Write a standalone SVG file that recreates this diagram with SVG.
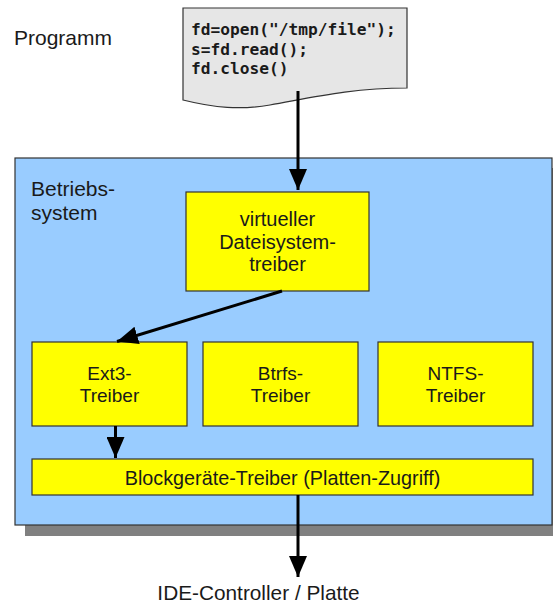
<svg xmlns="http://www.w3.org/2000/svg" width="553" height="605" viewBox="0 0 553 605">
<style>
.lbl{font-family:"Liberation Sans",Arial,sans-serif;fill:#1a1a1a}
.box{fill:#ffff00;stroke:#333333;stroke-width:1.2}
.mid{text-anchor:middle}
.code{font-family:"DejaVu Sans Mono",monospace;font-weight:bold;font-size:16.2px;fill:#1a1a1a}
.conn{stroke:#000;stroke-width:3;fill:none}
</style>
<defs>
<marker id="ah" markerWidth="7" markerHeight="6" refX="7" refY="3" orient="auto" markerUnits="strokeWidth" viewBox="0 0 7 6">
<path d="M0,0 L7,3 L0,6 Z" fill="#000"/>
</marker>
</defs>
<rect width="553" height="605" fill="#ffffff"/>
<g id="programm">
<text class="lbl" x="14" y="45" font-size="21">Programm</text>
<path d="M183,8 L407,8 L407,88 C350,88 310,98 270,105 C240,110 215,108 183,100 Z" fill="#e6e6e6" stroke="#333333" stroke-width="1.2"/>
<text class="code" x="191" y="35">fd=open("/tmp/file");</text>
<text class="code" x="191" y="54.5">s=fd.read();</text>
<text class="code" x="191" y="73.5">fd.close()</text>
</g>
<g id="betriebssystem">
<rect x="25" y="168" width="537" height="368" fill="#808080"/>
<rect x="15" y="158" width="537" height="367" fill="#99ccff" stroke="#333333" stroke-width="1.2"/>
<text class="lbl" x="31" y="196" font-size="21">Betriebs-</text>
<text class="lbl" x="31" y="220" font-size="21">system</text>
</g>
<g id="vfs">
<rect class="box" x="186" y="192" width="183" height="99"/>
<text class="lbl mid" x="277.5" y="226" font-size="20">virtueller</text>
<text class="lbl mid" x="277.5" y="249" font-size="20">Dateisystem-</text>
<text class="lbl mid" x="277.5" y="271" font-size="20">treiber</text>
</g>
<g id="ext3">
<rect class="box" x="32" y="342" width="155" height="84"/>
<text class="lbl mid" x="109.5" y="380" font-size="19">Ext3-</text>
<text class="lbl mid" x="109.5" y="402" font-size="19">Treiber</text>
</g>
<g id="btrfs">
<rect class="box" x="203" y="342" width="155" height="84"/>
<text class="lbl mid" x="280.5" y="380" font-size="19">Btrfs-</text>
<text class="lbl mid" x="280.5" y="402" font-size="19">Treiber</text>
</g>
<g id="ntfs">
<rect class="box" x="378" y="342" width="155" height="84"/>
<text class="lbl mid" x="455.5" y="380" font-size="19">NTFS-</text>
<text class="lbl mid" x="455.5" y="402" font-size="19">Treiber</text>
</g>
<g id="block">
<rect class="box" x="32" y="459" width="501" height="36"/>
<text class="lbl mid" x="282.5" y="484.5" font-size="19.8">Blockgeräte-Treiber (Platten-Zugriff)</text>
</g>
<g id="ide">
<text class="lbl mid" x="258.5" y="600" font-size="20.8">IDE-Controller / Platte</text>
</g>
<g id="connectors">
<line class="conn" x1="298" y1="91" x2="298" y2="190" marker-end="url(#ah)"/>
<line class="conn" x1="282" y1="291" x2="117" y2="341.5" marker-end="url(#ah)"/>
<line class="conn" x1="115.5" y1="426" x2="115.5" y2="458" marker-end="url(#ah)"/>
<line class="conn" x1="298" y1="495" x2="298" y2="577" marker-end="url(#ah)"/>
</g>
</svg>
